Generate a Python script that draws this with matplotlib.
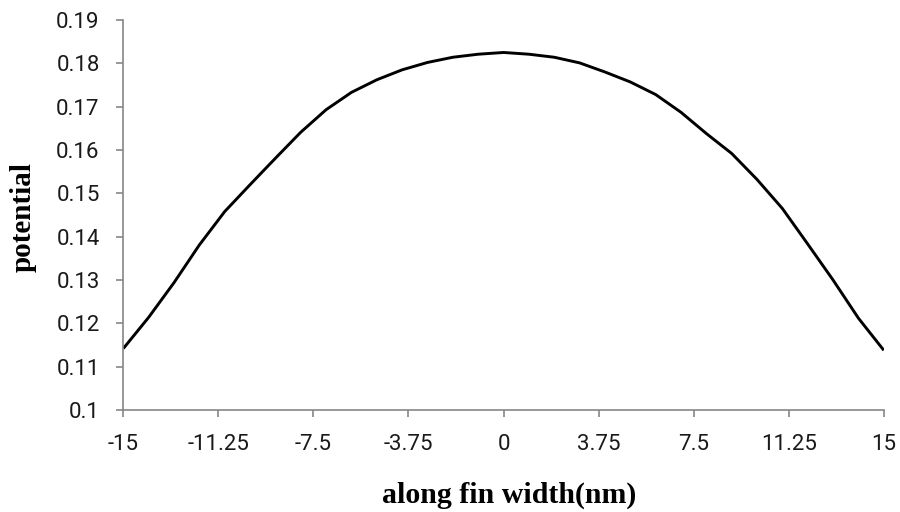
import numpy as np
import matplotlib.pyplot as plt

# values
width_nm = [-15, -14, -13, -12, -11, -10, -9, -8, -7, -6, -5, -4, -3, -2, -1, 0,
            1, 2, 3, 4, 5, 6, 7, 8, 9, 10, 11, 12, 13, 14, 15]
potential = [0.1142, 0.1214, 0.1294, 0.1381, 0.1458, 0.1520, 0.1581, 0.1641,
             0.1693, 0.1733, 0.1762, 0.1785, 0.1802, 0.1814, 0.1821, 0.1825,
             0.1821, 0.1814, 0.1801, 0.1780, 0.1757, 0.1728, 0.1687, 0.1638,
             0.1592, 0.1532, 0.1465, 0.1383, 0.1300, 0.1212, 0.1138]

x_ticks = [-15, -11.25, -7.5, -3.75, 0, 3.75, 7.5, 11.25, 15]
x_ticklabels = ['-15', '-11.25', '-7.5', '-3.75', '0', '3.75', '7.5', '11.25', '15']
y_ticks = [0.1, 0.11, 0.12, 0.13, 0.14, 0.15, 0.16, 0.17, 0.18, 0.19]
y_ticklabels = ['0.1', '0.11', '0.12', '0.13', '0.14', '0.15', '0.16', '0.17', '0.18', '0.19']


def main():
    fig = plt.figure(facecolor='w', figsize=(9, 5.12), dpi=100)
    ax = fig.add_axes([0.137, 0.199, 0.845, 0.762])

    ax.plot(width_nm, potential, color='k', linewidth=2.1, solid_capstyle='butt')

    ax.set_xlim(-15, 15)
    ax.set_ylim(0.1, 0.19)
    ax.set_xticks(x_ticks)
    ax.set_xticklabels(x_ticklabels)
    ax.set_yticks(y_ticks)
    ax.set_yticklabels(y_ticklabels)

    grey = '#868686'
    for s in ['top', 'right']:
        ax.spines[s].set_visible(False)
    for s in ['left', 'bottom']:
        ax.spines[s].set_color(grey)
        ax.spines[s].set_linewidth(1.2)
    ax.tick_params(axis='both', direction='out', length=5, width=1.2, color=grey,
                   pad=12, labelsize=16)
    for lab in ax.get_xticklabels() + ax.get_yticklabels():
        lab.set_fontfamily('Roboto')
        lab.set_color('#1a1a1a')

    fig.text(0.566, 0.032, 'along fin width(nm)', ha='center', va='center',
             fontfamily='Liberation Serif', fontweight='bold', fontsize=21.5)
    fig.text(0.026, 0.576, 'potential', ha='center', va='center', rotation=90,
             fontfamily='Liberation Serif', fontweight='bold', fontsize=21)

    fig.savefig('out.png', dpi=100, facecolor='w')
    plt.close('all')


if __name__ == '__main__':
    main()
